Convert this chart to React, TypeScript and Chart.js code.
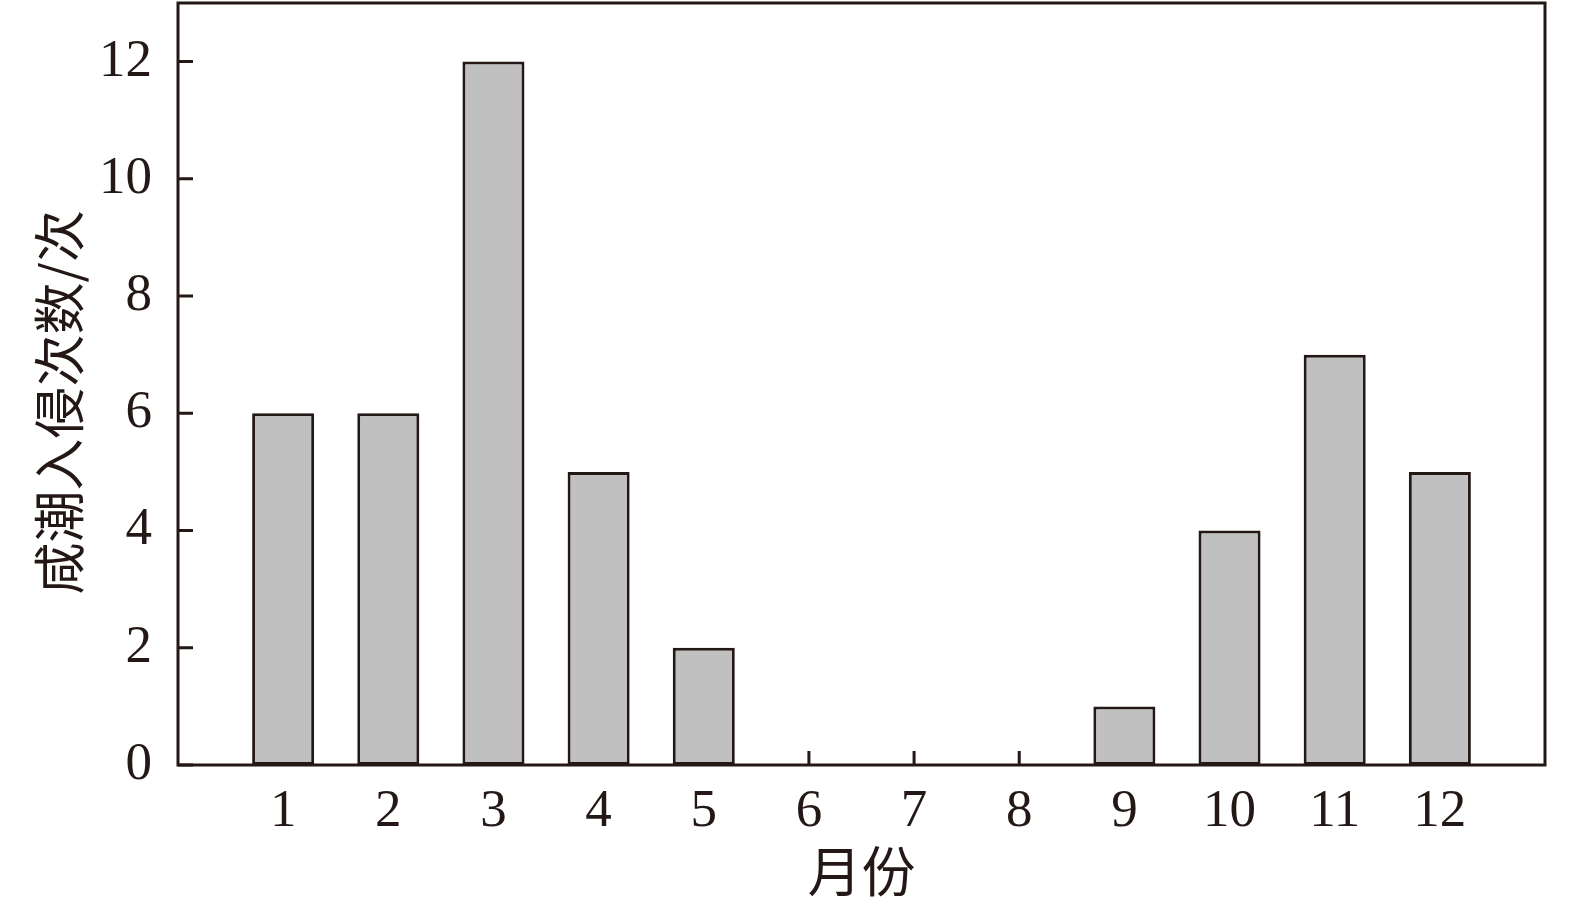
import React, { useEffect, useRef } from "react";
import { Chart, registerables } from "chart.js";

Chart.register(...registerables);

const months = [1, 2, 3, 4, 5, 6, 7, 8, 9, 10, 11, 12];
const counts = [6, 6, 12, 5, 2, 0, 0, 0, 1, 4, 7, 5];
const yTickValues = [0, 2, 4, 6, 8, 10, 12];
const xTitle = "月份";
const yTitle = "咸潮入侵次数/次\u2002\u2009";

const INK = "#231815";

const frameAndTicks = {
  id: "frameAndTicks",
  beforeDatasetsDraw(chart: any) {
    const { ctx, chartArea, scales } = chart;
    ctx.save();
    ctx.strokeStyle = INK;
    ctx.lineWidth = 3;
    ctx.beginPath();
    for (const m of months) {
      const px = scales.x.getPixelForValue(m);
      ctx.moveTo(px, chartArea.bottom);
      ctx.lineTo(px, chartArea.bottom - 14);
    }
    for (const v of yTickValues) {
      const py = scales.y.getPixelForValue(v);
      ctx.moveTo(chartArea.left, py);
      ctx.lineTo(chartArea.left + 15, py);
    }
    ctx.stroke();
    ctx.restore();
  },
  afterDraw(chart: any) {
    const { ctx, chartArea } = chart;
    ctx.save();
    ctx.strokeStyle = INK;
    ctx.lineWidth = 3;
    ctx.strokeRect(
      chartArea.left,
      chartArea.top,
      chartArea.right - chartArea.left,
      chartArea.bottom - chartArea.top
    );
    ctx.restore();
  },
};

const zeroPadding = (scale: any) => {
  scale.paddingTop = 0;
  scale.paddingBottom = 0;
  scale.paddingLeft = 0;
  scale.paddingRight = 0;
};

export default function App() {
  const canvasRef = useRef<HTMLCanvasElement | null>(null);

  useEffect(() => {
    if (!canvasRef.current) return;
    const chart = new Chart(canvasRef.current, {
      type: "bar",
      data: {
        datasets: [
          {
            data: months.map((m, i) => ({ x: m, y: counts[i] })),
            backgroundColor: "#c0c0c0",
            borderColor: INK,
            borderWidth: 3,
            borderSkipped: false,
            barPercentage: 0.59,
            categoryPercentage: 1,
          },
        ],
      },
      options: {
        animation: false,
        responsive: true,
        maintainAspectRatio: false,
        layout: { padding: { top: 3, right: 30, left: 0, bottom: 0 } },
        plugins: {
          legend: { display: false },
          tooltip: { enabled: false },
        },
        scales: {
          x: {
            type: "linear",
            min: 0,
            max: 13,
            offset: false,
            afterBuildTicks: (scale: any) => {
              scale.ticks = months.map((m) => ({ value: m }));
            },
            ticks: {
              stepSize: 1,
              autoSkip: false,
              maxRotation: 0,
              padding: 15,
              color: INK,
              font: { family: "'Liberation Serif', serif", size: 53 },
              callback: (v: any) => String(v),
            },
            grid: { display: false, drawTicks: false },
            border: { display: false },
            title: {
              display: true,
              text: xTitle,
              color: INK,
              font: { family: "'Noto Sans CJK SC', sans-serif", size: 54 },
              padding: { top: 0, bottom: 2 },
            },
            afterFit: (scale: any) => {
              scale.height = 141;
              zeroPadding(scale);
            },
          },
          y: {
            min: 0,
            max: 13,
            afterBuildTicks: (scale: any) => {
              scale.ticks = yTickValues.map((v) => ({ value: v }));
            },
            ticks: {
              padding: 26,
              color: INK,
              font: { family: "'Liberation Serif', serif", size: 53 },
            },
            grid: { display: false, drawTicks: false },
            border: { display: false },
            title: {
              display: true,
              text: yTitle,
              color: INK,
              font: { family: "'Noto Sans CJK SC', sans-serif", size: 52 },
              padding: { top: 28, bottom: 0 },
            },
            afterFit: (scale: any) => {
              scale.width = 178;
              zeroPadding(scale);
            },
          },
        },
      },
      plugins: [frameAndTicks],
    });
    return () => chart.destroy();
  }, []);

  return (
    <div
      style={{
        position: "fixed",
        left: 0,
        top: 0,
        width: 1575,
        height: 906,
        background: "#ffffff",
      }}
    >
      <canvas ref={canvasRef} />
    </div>
  );
}
